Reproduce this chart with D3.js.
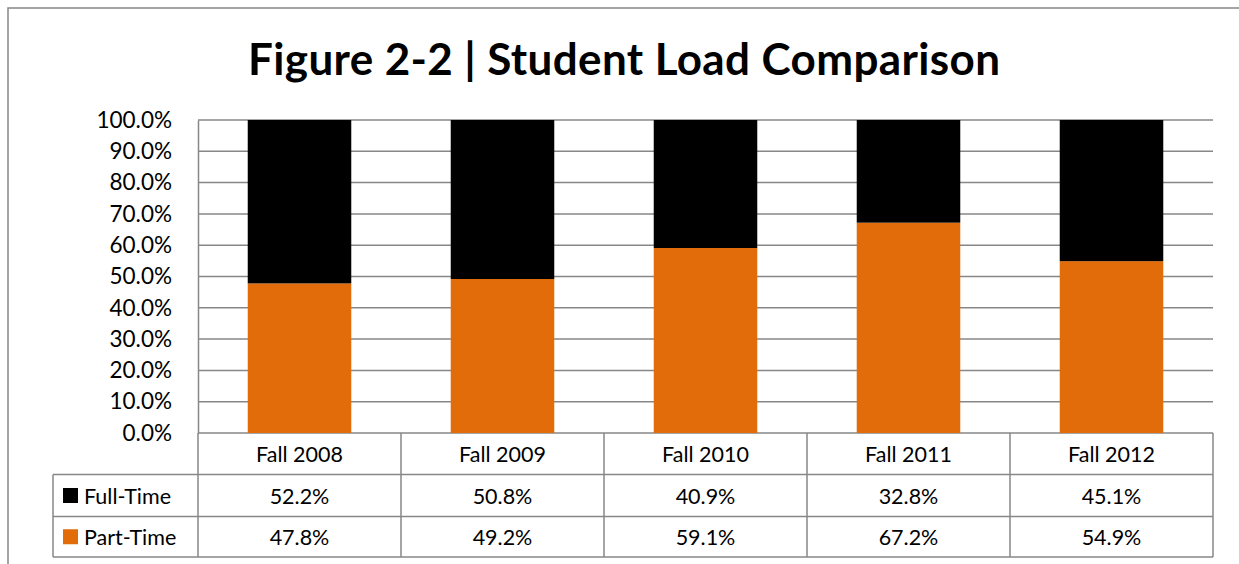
<!DOCTYPE html>
<html><head><meta charset="utf-8">
<script src="https://cdn.jsdelivr.net/npm/d3@7/dist/d3.min.js"></script>
<style>
html,body{margin:0;padding:0;background:#fff;}
svg{display:block;font-family:Lato,"Open Sans",sans-serif;}
</style></head>
<body>
<svg id="chart" width="1239" height="564"></svg>
<script>
const title = "Figure 2-2 | Student Load Comparison";
const categories = ["Fall 2008", "Fall 2009", "Fall 2010", "Fall 2011", "Fall 2012"];
const fullTime = [52.2, 50.8, 40.9, 32.8, 45.1];
const partTime = [47.8, 49.2, 59.1, 67.2, 54.9];
const seriesNames = ["Full-Time", "Part-Time"];
const seriesColors = ["#000000", "#E36C0A"];
const yTicks = [0, 10, 20, 30, 40, 50, 60, 70, 80, 90, 100];

const svg = d3.select("#chart");
const gridColor = "#878787";
const plotLeft = 198, plotRight = 1213, plotTop = 120, plotBottom = 433;
const tableLeft = 53;
const rowY = [433, 474.5, 516.5, 557];

// outer frame (only top & left visible)
svg.append("path").attr("d", "M8,564V8H1239").attr("fill", "none")
  .attr("stroke", gridColor).attr("stroke-width", 1.5);

// title
svg.append("text").attr("x", 624).attr("y", 75).attr("text-anchor", "middle")
  .attr("font-size", 44).attr("font-weight", "bold").attr("fill", "#000")
  .attr("textLength", 752).attr("lengthAdjust", "spacing")
  .text(title);

const x = d3.scaleBand().domain(categories).range([plotLeft, plotRight])
  .paddingInner(0.49).paddingOuter(0.245);
const y = d3.scaleLinear().domain([0, 100]).range([plotBottom, plotTop]);

// gridlines
svg.append("g").selectAll("line").data(yTicks).join("line")
  .attr("x1", plotLeft).attr("x2", plotRight)
  .attr("y1", d => y(d)).attr("y2", d => y(d))
  .attr("stroke", gridColor).attr("stroke-width", 1.5);

// y axis
const yAxis = d3.axisLeft(y).tickValues(yTicks).tickSize(0).tickPadding(26)
  .tickFormat(d => d3.format(".1f")(d) + "%");
const ga = svg.append("g").attr("transform", `translate(${plotLeft},0)`).call(yAxis);
ga.select(".domain").attr("stroke", gridColor).attr("stroke-width", 1.5);
ga.selectAll("text").attr("font-size", 22.5).attr("font-family", "Lato").attr("fill", "#000");

// stacked bars
const rows = categories.map((c, i) => ({cat: c, pt: partTime[i], ft: fullTime[i]}));
const stack = d3.stack().keys(["pt", "ft"])(rows);
const colorByKey = {pt: seriesColors[1], ft: seriesColors[0]};
svg.append("g").selectAll("g").data(stack).join("g")
  .attr("fill", d => colorByKey[d.key])
  .selectAll("rect").data(d => d).join("rect")
  .attr("x", d => x(d.data.cat)).attr("width", x.bandwidth())
  .attr("y", d => y(d[1])).attr("height", d => y(d[0]) - y(d[1]));

// data table
const tg = svg.append("g");
const slotLeft = c => x(c) + x.bandwidth() / 2 - x.step() / 2;
const lineAttrs = sel => sel.attr("stroke", gridColor).attr("stroke-width", 1.5);
rowY.slice(1).forEach(yy => {
  tg.append("line").attr("x1", tableLeft).attr("x2", plotRight).attr("y1", yy).attr("y2", yy).call(lineAttrs);
});
categories.forEach(c => {
  tg.append("line").attr("x1", slotLeft(c)).attr("x2", slotLeft(c)).attr("y1", rowY[0]).attr("y2", rowY[3]).call(lineAttrs);
});
tg.append("line").attr("x1", plotRight).attr("x2", plotRight).attr("y1", rowY[0]).attr("y2", rowY[3]).call(lineAttrs);
tg.append("line").attr("x1", tableLeft).attr("x2", tableLeft).attr("y1", rowY[1]).attr("y2", rowY[3]).call(lineAttrs);

const txt = (xx, yy, s, anchor) => tg.append("text").attr("x", xx).attr("y", yy)
  .attr("text-anchor", anchor || "middle").attr("dominant-baseline", "central")
  .attr("font-size", 21.5).attr("fill", "#000").text(s);

categories.forEach((c, i) => {
  const cx = x(c) + x.bandwidth() / 2;
  txt(cx, (rowY[0] + rowY[1]) / 2, c);
  txt(cx, (rowY[1] + rowY[2]) / 2, d3.format(".1f")(fullTime[i]) + "%");
  txt(cx, (rowY[2] + rowY[3]) / 2, d3.format(".1f")(partTime[i]) + "%");
});
seriesNames.forEach((s, i) => {
  const cy = (rowY[i + 1] + rowY[i + 2]) / 2;
  tg.append("rect").attr("x", 63).attr("y", cy - 7.5).attr("width", 15).attr("height", 15).attr("fill", seriesColors[i]);
  txt(84, cy, s, "start");
});
</script>
</body></html>
